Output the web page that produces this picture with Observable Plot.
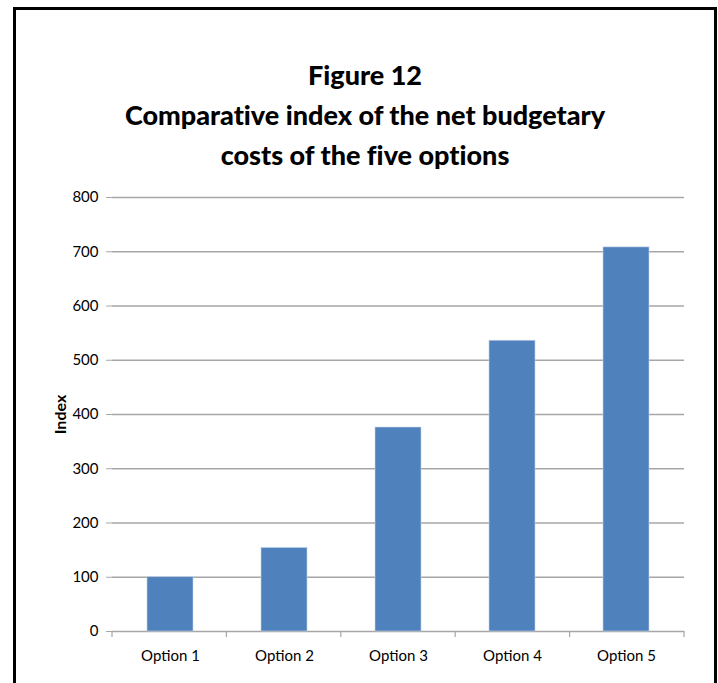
<!DOCTYPE html>
<html>
<head>
<meta charset="utf-8">
<script src="https://cdn.jsdelivr.net/npm/d3@7"></script>
<script src="https://cdn.jsdelivr.net/npm/@observablehq/plot@0.6"></script>
<style>
  html, body { margin: 0; padding: 0; background: #fff; }
  body { width: 718px; height: 683px; overflow: hidden; position: relative; }
  #frame { position: absolute; left: 13px; top: 7px; width: 698px; height: 700px;
           border: 3px solid #000; box-sizing: content-box; }
  #title { position: absolute; left: 16px; top: 55px; width: 698px; text-align: center;
           font-family: Lato, sans-serif; font-weight: 900; font-size: 27px; line-height: 40px; color: #000;
           font-variant-ligatures: none; }
  #chart { position: absolute; left: 0; top: 170px; }
</style>
</head>
<body>
<div id="frame"></div>
<div id="title">Figure 12<br>Comparative index of the net budgetary<br>costs of the five options</div>
<div id="chart"></div>
<script>
const categories = ["Option 1", "Option 2", "Option 3", "Option 4", "Option 5"];
const values = [100, 154, 376, 536, 708];
const yTicks = [0, 100, 200, 300, 400, 500, 600, 700, 800];
const yLabel = "Index";

const data = categories.map((c, i) => ({category: c, value: values[i]}));
const gridColor = "#a6a6a6";

const boundaryTicks = (index, scales, values, dims) => {
  const g = d3.create("svg:g");
  const n = categories.length;
  const x0 = dims.marginLeft, x1 = dims.width - dims.marginRight;
  const step = (x1 - x0) / n;
  const yb = dims.height - dims.marginBottom;
  for (let i = 0; i <= n; i++) {
    const x = x0 + i * step;
    g.append("line").attr("x1", x).attr("x2", x).attr("y1", yb).attr("y2", yb + 6)
      .attr("stroke", gridColor).attr("stroke-width", 1.2);
  }
  return g.node();
};

const chart = Plot.plot({
  width: 718,
  height: 513,
  marginLeft: 112,
  marginRight: 34,
  marginTop: 27,
  marginBottom: 52,
  style: {fontFamily: "Lato, sans-serif", fontSize: "15px", color: "#000", background: "transparent"},
  x: {domain: categories, paddingInner: 0.6, paddingOuter: 0.3, label: null},
  y: {domain: [0, 800], ticks: yTicks, label: null},
  marks: [
    Plot.ruleY(yTicks, {stroke: gridColor, strokeWidth: 1.3}),
    Plot.barY(data, {x: "category", y: "value", fill: "#4f81bd", stroke: "#c3d3e8", strokeWidth: 0.6}),
    Plot.ruleX([0], {frameAnchor: "left", stroke: gridColor, strokeWidth: 1.3}),
    Plot.axisY({ticks: yTicks, tickSize: 6, tickPadding: 8, stroke: gridColor, fontSize: 15, label: null}),
    Plot.axisX({tickSize: 0, tickPadding: 19, fontSize: 15, label: null}),
    boundaryTicks,
    Plot.text([yLabel], {frameAnchor: "left", textAnchor: "middle", dx: -52, rotate: -90, fontWeight: "bold", fontSize: 16})
  ]
});
document.getElementById("chart").appendChild(chart);
</script>
</body>
</html>
